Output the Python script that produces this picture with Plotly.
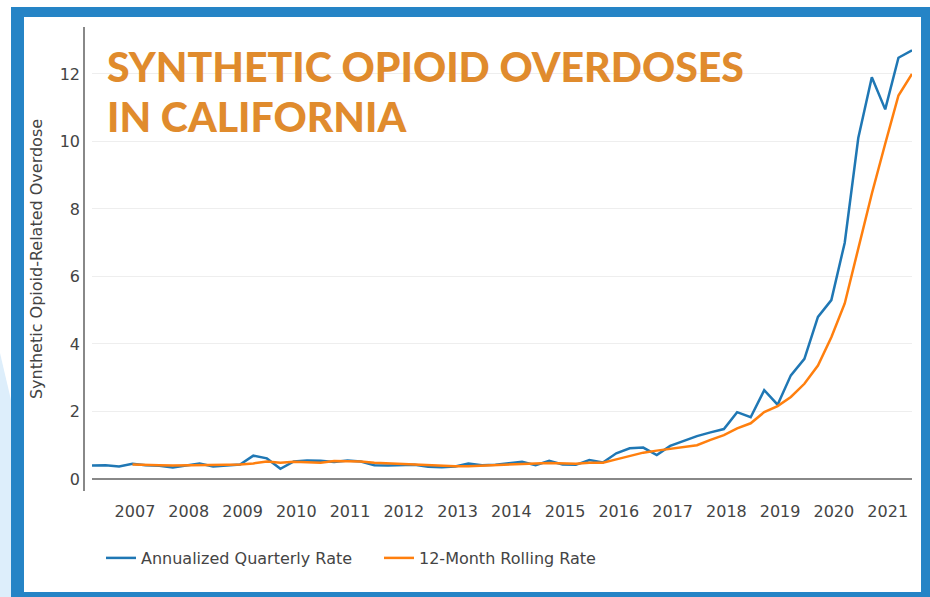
import plotly.graph_objects as go
from datetime import date

W, H = 930, 597

# ---- data ----
quarters = [f"{y} Q{q}" for y in range(2006, 2022) for q in range(1, 5)][:62]

annualized_quarterly = [
    0.40, 0.41, 0.37, 0.45, 0.41, 0.39, 0.34, 0.40,
    0.46, 0.37, 0.41, 0.43, 0.69, 0.61, 0.30, 0.52,
    0.55, 0.54, 0.50, 0.55, 0.52, 0.41, 0.40, 0.42,
    0.42, 0.36, 0.35, 0.37, 0.46, 0.41, 0.42, 0.47,
    0.51, 0.41, 0.54, 0.43, 0.42, 0.56, 0.49, 0.76,
    0.91, 0.93, 0.71, 0.98, 1.13, 1.27, 1.38, 1.48,
    1.98, 1.83, 2.63, 2.20, 3.07, 3.56, 4.80, 5.30,
    7.00, 10.10, 11.90, 10.95, 12.48, 12.70,
]

rolling_12_month = [
    None, None, None, 0.43, 0.41, 0.41, 0.40, 0.40,
    0.41, 0.41, 0.42, 0.43, 0.46, 0.52, 0.48, 0.51,
    0.50, 0.48, 0.53, 0.53, 0.52, 0.48, 0.46, 0.45,
    0.43, 0.40, 0.38, 0.38, 0.38, 0.40, 0.41, 0.43,
    0.45, 0.46, 0.47, 0.46, 0.45, 0.48, 0.48, 0.58,
    0.68, 0.78, 0.84, 0.90, 0.96, 1.00, 1.16, 1.30,
    1.50, 1.65, 1.98, 2.16, 2.43, 2.82, 3.36, 4.20,
    5.20, 6.80, 8.45, 9.93, 11.36, 12.00,
]

year_ticks = list(range(2007, 2022))
y_ticks = [0, 2, 4, 6, 8, 10, 12]

title_lines = ["SYNTHETIC OPIOID OVERDOSES", "IN CALIFORNIA"]
y_title = "Synthetic Opioid-Related Overdose"
series_names = ["Annualized Quarterly Rate", "12-Month Rolling Rate"]


def q_date(label):
    y, q = label.split(" Q")
    return date(int(y), int(q) * 3, 15).isoformat()


x_dates = [q_date(q) for q in quarters]


def px(x):
    return x / W


def py(y):
    return 1 - y / H


BLUE = "#1f77b4"
ORANGE = "#ff7f0e"
FRAME = "#2584c6"
TITLE = "#e08b2d"
FONT = "DejaVu Sans"

fig = go.Figure()
fig.add_trace(go.Scatter(x=x_dates, y=annualized_quarterly, mode="lines",
                         name=series_names[0], line=dict(color=BLUE, width=2.5)))
fig.add_trace(go.Scatter(x=x_dates, y=rolling_12_month, mode="lines",
                         name=series_names[1], line=dict(color=ORANGE, width=2.5)))

shapes = [
    dict(type="path", xref="paper", yref="paper", layer="below",
         path=f"M {px(0)},{py(353)} L {px(11)},{py(400)} L {px(11)},{py(597)} L {px(0)},{py(597)} Z",
         fillcolor="#ddeefb", line=dict(width=0)),
    dict(type="rect", xref="paper", yref="paper", layer="below",
         x0=px(11), x1=px(930), y0=py(597), y1=py(7),
         fillcolor=FRAME, line=dict(width=0)),
    dict(type="rect", xref="paper", yref="paper", layer="below",
         x0=px(24), x1=px(921), y0=py(592), y1=py(17),
         fillcolor="white", line=dict(width=0)),
]

annotations = [
    dict(text=title_lines[0], xref="paper", yref="paper", x=px(105), y=py(40),
         xanchor="left", yanchor="top", showarrow=False,
         font=dict(family="Lato", size=41, color=TITLE, weight=900)),
    dict(text=title_lines[1], xref="paper", yref="paper", x=px(105), y=py(90),
         xanchor="left", yanchor="top", showarrow=False,
         font=dict(family="Lato", size=41, color=TITLE, weight=900)),
]

fig.update_layout(
    width=W, height=H,
    margin=dict(l=0, r=0, t=0, b=0),
    paper_bgcolor="white",
    plot_bgcolor="rgba(0,0,0,0)",
    font=dict(family=FONT, size=16, color="#444"),
    shapes=shapes,
    annotations=annotations,
    showlegend=True,
    legend=dict(orientation="h", x=px(101), y=py(558), yanchor="middle", xanchor="left",
                font=dict(size=16, color="#444"), bgcolor="rgba(0,0,0,0)",
                entrywidth=233, entrywidthmode="pixels"),
    xaxis=dict(
        domain=[px(92), px(912)],
        range=[x_dates[0], x_dates[-1]],
        type="date",
        tickvals=[date(y, 1, 1).isoformat() for y in year_ticks],
        ticktext=[str(y) for y in year_ticks],
        showgrid=False, zeroline=False, showline=False,
        ticks="outside", ticklen=6, tickcolor="rgba(0,0,0,0)",
        tickfont=dict(size=16, color="#444"),
        automargin=False,
    ),
    yaxis=dict(
        domain=[py(491), py(27)],
        range=[-0.356, 13.39],
        anchor="free", position=px(84),
        tickvals=y_ticks,
        showgrid=True, gridcolor="#eeeeee", gridwidth=1,
        zeroline=True, zerolinecolor="#888888", zerolinewidth=2,
        showline=True, linecolor="#888888", linewidth=1.5,
        ticks="", tickfont=dict(size=16, color="#444"),
        title=dict(text=y_title, font=dict(size=16, color="#444"), standoff=12),
        automargin=False,
    ),
)

fig.write_html("out.html", config={"displayModeBar": False},
               post_script="document.body.style.margin='0px';document.body.style.overflow='hidden';")
